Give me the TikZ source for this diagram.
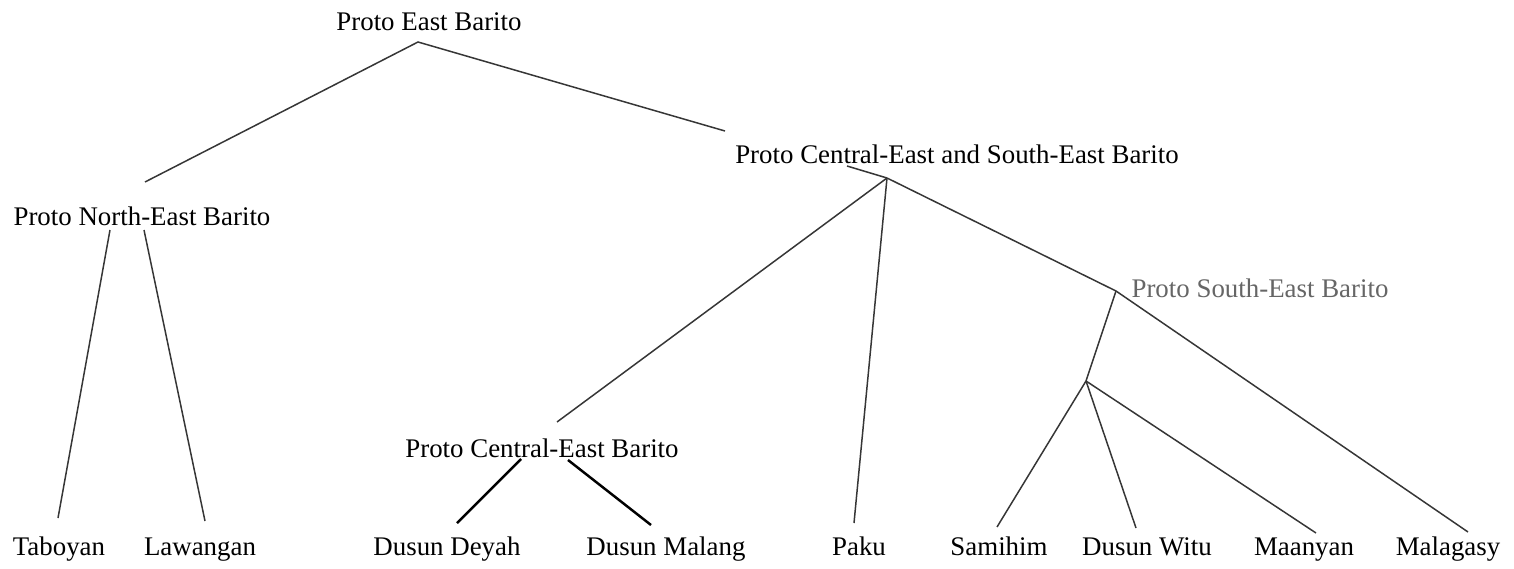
\documentclass[tikz,border=0pt]{standalone}
\usepackage{fontspec}
\setmainfont{Liberation Serif}
\usepackage{xcolor}
\usetikzlibrary{calc}
\usetikzlibrary{positioning}

\definecolor{branch}{HTML}{363636}
\definecolor{faded}{HTML}{666666}

\begin{document}
\begin{tikzpicture}[x=0.02cm,y=-0.02cm,
    lbl/.style={inner sep=0pt,anchor=base,font=\fontsize{15.3}{18}\selectfont},
    br/.style={draw=branch,line width=0.85pt},
    thick br/.style={draw=black,line width=1.4pt}]
            \useasboundingbox (0,0) rectangle (1514,568);
            % inner labels
            \node[lbl] (peb) at (429,31) {Proto East Barito};
            \node[lbl] (pneb) at (142,225) {Proto North-East Barito};
            \node[lbl] (pceseb) at (957,163) {Proto Central-East and South-East Barito};
            \node[lbl] (pceb) at (542,457) {Proto Central-East Barito};
            \node[lbl,text=faded] (pseb) at (1260,297) {Proto South-East Barito};
            % leaves
            \node[lbl] (taboyan) at (59,555) {Taboyan};
            \node[lbl] (lawangan) at (200,555) {Lawangan};
            \node[lbl] (deyah) at (447,555) {Dusun Deyah};
            \node[lbl] (malang) at (666,555) {Dusun Malang};
            \node[lbl] (paku) at (859,555) {Paku};
            \node[lbl] (samihim) at (999,555) {Samihim};
            \node[lbl] (witu) at (1147,555) {Dusun Witu};
            \node[lbl] (maanyan) at (1304,555) {Maanyan};
            \node[lbl] (malagasy) at (1448,555) {Malagasy};
            % branch points
            \coordinate (peb-j) at (418,42);
            \coordinate (pneb-in) at (145,182);
            \coordinate (pneb-l) at (110,230);
            \coordinate (pneb-r) at (144,230);
            \coordinate (pceseb-in) at (725,131);
            \coordinate (pceseb-out) at (847,166);
            \coordinate (pceseb-j) at (887,178);
            \coordinate (pceb-in) at (557,422);
            \coordinate (pceb-l) at (521,459);
            \coordinate (pceb-r) at (568,460);
            \coordinate (pseb-j) at (1116,291);
            \coordinate (sub-j) at (1086,381);
            % leaf tips
            \coordinate (taboyan-t) at (58,518);
            \coordinate (lawangan-t) at (205,521);
            \coordinate (deyah-t) at (457,523);
            \coordinate (malang-t) at (651,525);
            \coordinate (paku-t) at (854,523);
            \coordinate (samihim-t) at (997,527);
            \coordinate (witu-t) at (1136,528);
            \coordinate (maanyan-t) at (1316,533);
            \coordinate (malagasy-t) at (1468,532);
            % branches
            \draw[br] (pneb-in) -- (peb-j) -- (pceseb-in);
            \draw[br] (pceseb-out) -- (pceseb-j);
            \draw[br] (pneb-l) -- (taboyan-t);
            \draw[br] (pneb-r) -- (lawangan-t);
            \draw[br] (pceseb-j) -- (pceb-in);
            \draw[br] (pceseb-j) -- (paku-t);
            \draw[br] (pceseb-j) -- (pseb-j) -- (malagasy-t);
            \draw[br] (pseb-j) -- (sub-j);
            \draw[br] (sub-j) -- (samihim-t);
            \draw[br] (sub-j) -- (witu-t);
            \draw[br] (sub-j) -- (maanyan-t);
            \draw[thick br] (pceb-l) -- (deyah-t);
            \draw[thick br] (pceb-r) -- (malang-t);
        \end{tikzpicture}
\end{document}
